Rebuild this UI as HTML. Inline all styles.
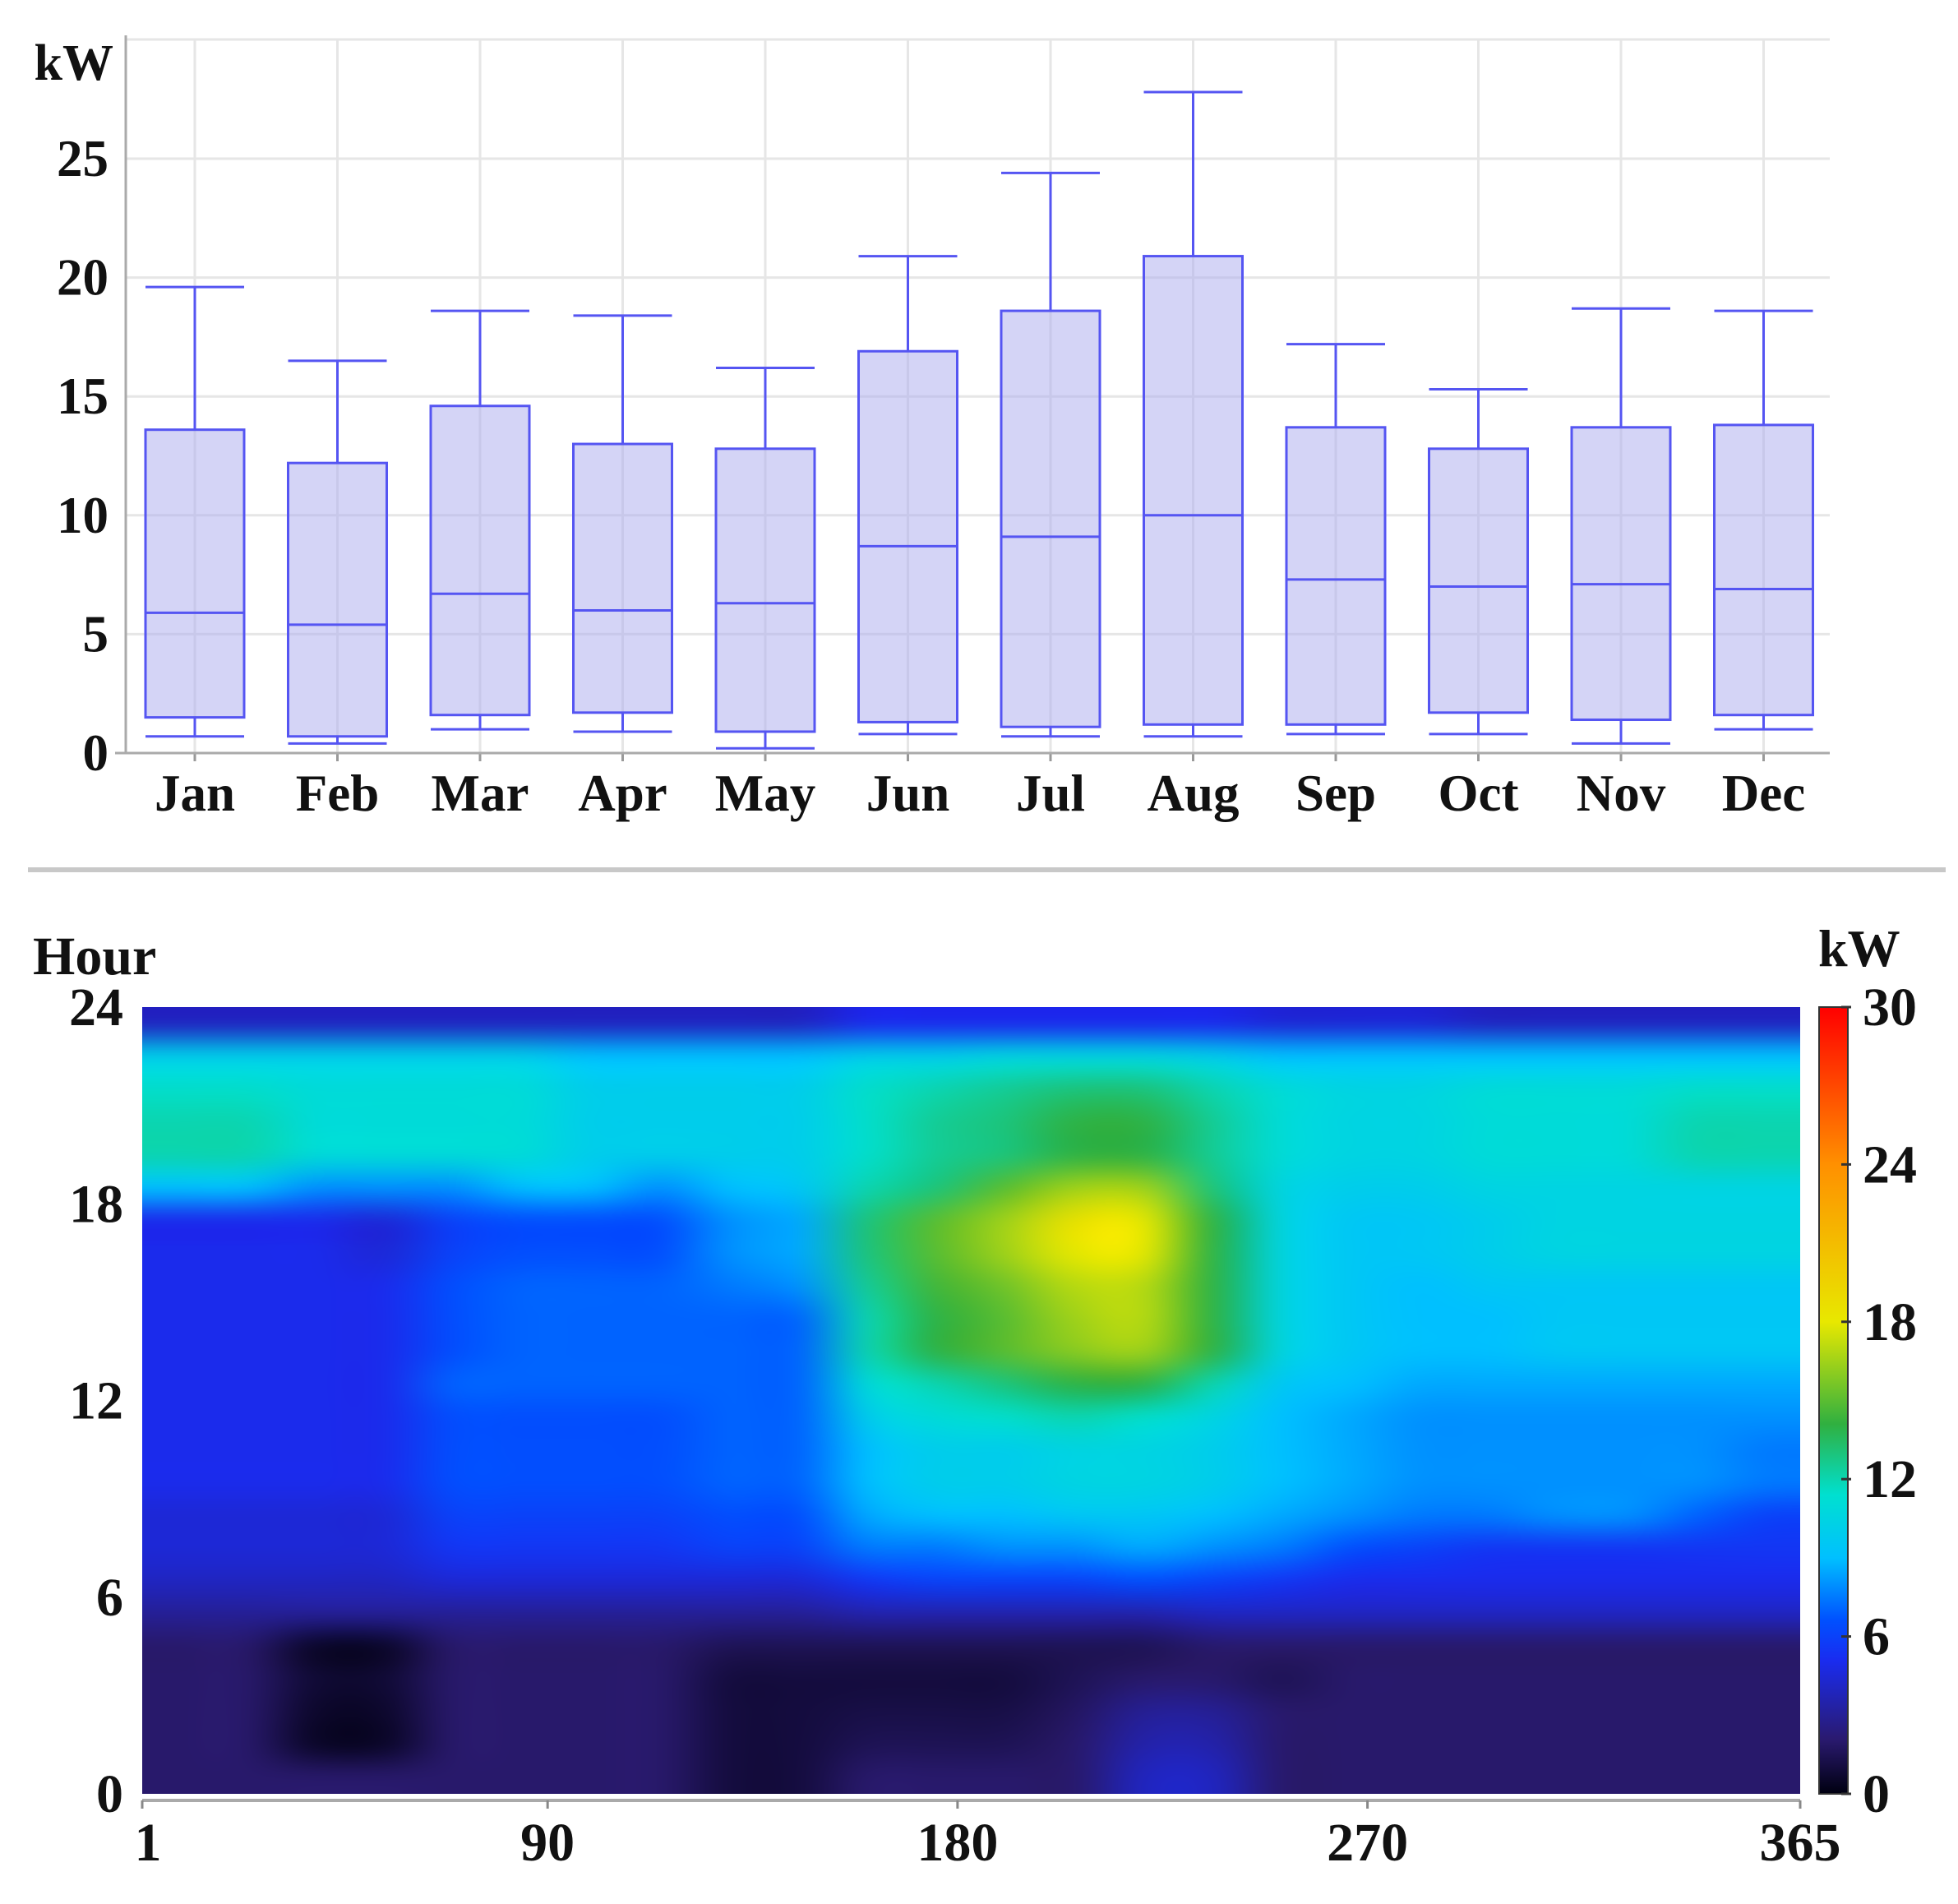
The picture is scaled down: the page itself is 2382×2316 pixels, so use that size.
<!DOCTYPE html>
<html><head><meta charset="utf-8"><style>
html,body{margin:0;padding:0;background:#fff;}
#root{position:relative;width:2382px;height:2316px;overflow:hidden;background:#fff;}
svg{position:absolute;left:0;top:0;}
text{font-family:"Liberation Serif",serif;font-weight:bold;fill:#111;}
#heat{position:absolute;left:173px;top:1225px;width:2017px;height:957px;}
</style></head><body>
<div id="root">
<svg id="top" width="2382" height="2316"></svg>
<canvas id="heat" width="2017" height="957"></canvas>
</div>
<script>
// ---- Box plot data ----
const months=["Jan","Feb","Mar","Apr","May","Jun","Jul","Aug","Sep","Oct","Nov","Dec"];
const whiskLow=[0.7,0.4,1.0,0.9,0.2,0.8,0.7,0.7,0.8,0.8,0.4,1.0];
const q1=[1.5,0.7,1.6,1.7,0.9,1.3,1.1,1.2,1.2,1.7,1.4,1.6];
const median=[5.9,5.4,6.7,6.0,6.3,8.7,9.1,10.0,7.3,7.0,7.1,6.9];
const q3=[13.6,12.2,14.6,13.0,12.8,16.9,18.6,20.9,13.7,12.8,13.7,13.8];
const whiskHigh=[19.6,16.5,18.6,18.4,16.2,20.9,24.4,27.8,17.2,15.3,18.7,18.6];
const yTicks=[0,5,10,15,20,25];
// ---- Heatmap data (rows = hour 0..23, cols = ~15-day groups) ----
const heatRows=[
[2,2,2,2,2,2,2,2,1,1,2,2,2,2,4,4,2,2,2,2,2,2,2,2],
[2,2,0.5,0.5,2,2,2,2,1,1,1.5,1.5,1.5,2,3.5,3.5,2,2,2,2,2,2,2,2],
[2,2,0.6,0.6,2,2,2,2,1,1,1.2,1.2,1.2,1.8,3,3,2,2,2,2,2,2,2,2],
[2,2,0.8,0.8,2,2,2,2,1,1,1,1,1,1.5,2,2,1.5,2,2,2,2,2,2,2],
[2,2,0.5,0.5,2,2,2,2,1.5,1.5,1.5,1.5,1.5,1.5,1.5,2,2,2,2,2,2,2,2,2],
[3,3,3,3,3,3,3,3,3,3,3.5,3.5,3.5,3.5,3.5,4,4,4,4,4,4,4,4,4],
[4,4,4,4,4.5,4.5,4.5,4.5,4.5,4.5,5.5,6,6,6,6.5,6,5.5,5,5,5,5,5,5,5],
[4.5,4.5,4.5,4.5,5.5,5.5,5.5,5.5,6,6,7.5,7.5,8,8,8.5,8,7.5,6.5,6,5.5,5.5,5.5,5.5,5.5],
[4.5,4.5,4.5,4.5,6,6,6,6,6.5,6.5,8.5,9,9,9.5,9.5,9,8.5,8,7.5,7.5,8,8,7,6],
[5,5,5,5,6.5,6.5,6.5,6.5,7,7,9,10,10,10.5,10.5,10,9,8.5,8,8,8,8,8,7.5],
[5,5,5,5,6.5,6.5,6.5,6.5,7,7,9,10,10,10.5,10.5,10,9,8.5,8,8,8,8,8,7.5],
[5,5,5,5,6.5,6.5,6.5,6.5,7,7,10,11,11.5,12,11.5,10.5,9,8.5,8,8,8,8,8,8],
[5,5,5,5,7,7,7,7,7,7,11,12,13,14,14,12,9.5,9,8.5,8.5,8.5,8.5,8.5,8.5],
[5,5,5,5,6.5,7,7,7,7,7,12,14,15,16,16.5,14,10.5,9.5,9,9,9.5,9.5,9.5,9.5],
[5,5,5,5,6.5,7,7,7,7,7,12,14,15,16.5,17,14,10.5,9.5,9,9,9.5,9.5,9.5,9.5],
[5,5,5,5,6.5,7,7,7,7.5,8,12.5,14.5,15.5,17,17,14,10.5,9.5,9,9.5,9.5,9.5,9.5,9.5],
[5,5,5,4.5,6,6.5,6.5,6.5,8,8.5,13,15,16.5,18,18,14,10.5,9.5,9.5,10,10.5,10.5,10.5,10.5],
[5,5,5,4.5,6,6.5,6.5,6.5,8,8.5,13,15,16.5,18.5,18,14,10.5,9.5,9.5,10,10.5,10.5,10.5,10.5],
[9,9,8,8,8,9,9,8,9,9.5,12,13,15,16.5,16.5,13,10.5,10,10,10.5,10.5,10.5,10.5,10.5],
[12,12,11,11,11,11,10,10,10,10,11.5,12.5,13,14,14,12.5,11,10.5,10.5,11,11,11,12,12],
[12,12,11,11,11,11,10,10,10,10,11.5,12.5,13,14,14,12.5,11,10.5,10.5,11,11,11,12,12],
[11.5,11.5,11,11,11,11,10,10,10,10,11.5,12,12.5,13,13,12,11,10.5,10.5,11,11,11,11.5,11.5],
[10,10,10,10,10,10,9,9,9,9,10,10,10.5,10.5,10.5,10,9,9,9,9,9,9,9,9],
[4,4,4,4,4,4,4,4,4,4,5,5,5,5,5,5,4.5,4.5,4.5,4,4,4,4,4]];
const hourTicks=[0,6,12,18,24];
const dayTicks=[1,90,180,270,365];
const cbTicks=[0,6,12,18,24,30];

const NS="http://www.w3.org/2000/svg";
const svg=document.getElementById('top');
function mk(tag,attrs,parent){const e=document.createElementNS(NS,tag);for(const k in attrs)e.setAttribute(k,attrs[k]);(parent||svg).appendChild(e);return e;}
// box plot axes
const PX0=153,PX1=2226,PY0=48,PY1=916;
const yS=v=>PY1-(v/25)*(PY1-193);
const xS=i=>237+i*173.5;
for(const t of yTicks){
 const g=mk('line',{x1:PX0,x2:PX1,y1:yS(t),y2:yS(t),stroke:'#e6e6e6','stroke-width':3});
 
 const tx=mk('text',{x:132,y:yS(t)+21,'text-anchor':'end','font-size':63});tx.textContent=t;
 
}
mk('line',{x1:PX0,x2:PX1,y1:PY0,y2:PY0,stroke:'#e6e6e6','stroke-width':3});
const kw=mk('text',{x:138,y:97,'text-anchor':'end','font-size':62});kw.textContent='kW';

months.forEach((m,i)=>{
 const x=xS(i);
 const gl=mk('line',{x1:x,x2:x,y1:PY0,y2:PY1,stroke:'#e6e6e6','stroke-width':3});
 
 const g=mk('g',{});
 
 const st={stroke:'#5555f2','stroke-width':3};
 mk('line',Object.assign({x1:x,x2:x,y1:yS(whiskHigh[i]),y2:yS(q3[i])},st),g);
 mk('line',Object.assign({x1:x,x2:x,y1:yS(q1[i]),y2:yS(whiskLow[i])},st),g);
 mk('line',Object.assign({x1:x-60,x2:x+60,y1:yS(whiskHigh[i]),y2:yS(whiskHigh[i])},st),g);
 mk('line',Object.assign({x1:x-60,x2:x+60,y1:yS(whiskLow[i]),y2:yS(whiskLow[i])},st),g);
 mk('rect',Object.assign({x:x-60,y:yS(q3[i]),width:120,height:yS(q1[i])-yS(q3[i]),fill:'rgba(170,170,238,0.5)'},st),g);
 mk('line',Object.assign({x1:x-60,x2:x+60,y1:yS(median[i]),y2:yS(median[i])},st),g);
 mk('line',{x1:x,x2:x,y1:PY1,y2:PY1+10,stroke:'#999','stroke-width':3});
 const t=mk('text',{x:x,y:986,'text-anchor':'middle','font-size':63});t.textContent=m;
 
});
mk('line',{x1:PX0,x2:PX0,y1:PY0-5,y2:PY1,stroke:'#aaa','stroke-width':3});
mk('line',{x1:140,x2:PX1,y1:PY1,y2:PY1,stroke:'#aaa','stroke-width':3});
const sep=mk('line',{x1:34,x2:2367,y1:1058,y2:1058,stroke:'#c8c8c8','stroke-width':6});


// heatmap axes
const HX0=173,HX1=2190,HY0=1225,HY1=2182;
const hY=h=>HY1-(h/24)*(HY1-HY0);
const dX=d=>HX0+(d-1)/364*(HX1-HX0);
const hl=mk('text',{x:40,y:1185,'font-size':66});hl.textContent='Hour';

for(const h of hourTicks){const t=mk('text',{x:150,y:hY(h)+22,'text-anchor':'end','font-size':66});t.textContent=h;
 }
mk('line',{x1:HX0,x2:HX1,y1:HY1+8,y2:HY1+8,stroke:'#aaa','stroke-width':4});
for(const d of dayTicks){const x=dX(d);
 mk('line',{x1:x,x2:x,y1:HY1+8,y2:HY1+18,stroke:'#888','stroke-width':3});
 const t=mk('text',{x:x+(d===1?7:0),y:2263,'text-anchor':'middle','font-size':66});t.textContent=d;
 }
// colorbar
const defs=mk('defs',{});
const lg=mk('linearGradient',{id:'jet',x1:0,y1:1,x2:0,y2:0},defs);
const stops=[[0,'#000010'],[0.07,'#2a1a70'],[0.17,'#1a2cf0'],[0.22,'#0050ff'],[0.3,'#00c0ff'],[0.38,'#00e0d0'],[0.47,'#30b040'],[0.6,'#e8e800'],[0.8,'#ff9000'],[1,'#ff0000']];
stops.forEach(s=>mk('stop',{offset:s[0],'stop-color':s[1]},lg));
const cb=mk('rect',{x:2213,y:HY0,width:35,height:HY1-HY0,fill:'url(#jet)',stroke:'#333','stroke-width':2});

const cbY=v=>HY1-(v/30)*(HY1-HY0);
for(const v of cbTicks){mk('line',{x1:2240,x2:2252,y1:cbY(v),y2:cbY(v),stroke:'#333','stroke-width':3});
 const t=mk('text',{x:2266,y:cbY(v)+22,'font-size':66});t.textContent=v;
 }
const ck=mk('text',{x:2212,y:1175,'font-size':64});ck.textContent='kW';


// heatmap drawing
function jet(v){const p=Math.max(0,Math.min(1,v/30));
 for(let i=1;i<stops.length;i++){if(p<=stops[i][0]){const a=stops[i-1],b=stops[i];const f=(p-a[0])/(b[0]-a[0]);
  const c1=parseInt(a[1].slice(1),16),c2=parseInt(b[1].slice(1),16);
  const ch=s=>Math.round(((c1>>s)&255)*(1-f)+((c2>>s)&255)*f);return [ch(16),ch(8),ch(0)];}}
 return [255,0,0];}
const rows=heatRows.length,cols=heatRows[0].length;
const small=document.createElement('canvas');small.width=cols;small.height=rows;
const sc=small.getContext('2d');const img=sc.createImageData(cols,rows);
for(let h=0;h<rows;h++)for(let c=0;c<cols;c++){const [r,g,b]=jet(heatRows[h][c]);const k=((rows-1-h)*cols+c)*4;
 img.data[k]=r;img.data[k+1]=g;img.data[k+2]=b;img.data[k+3]=255;}
sc.putImageData(img,0,0);
const hc=document.getElementById('heat').getContext('2d');
hc.imageSmoothingEnabled=true;hc.imageSmoothingQuality='high';
hc.drawImage(small,0,0,2017,957);
</script>
</body></html>
